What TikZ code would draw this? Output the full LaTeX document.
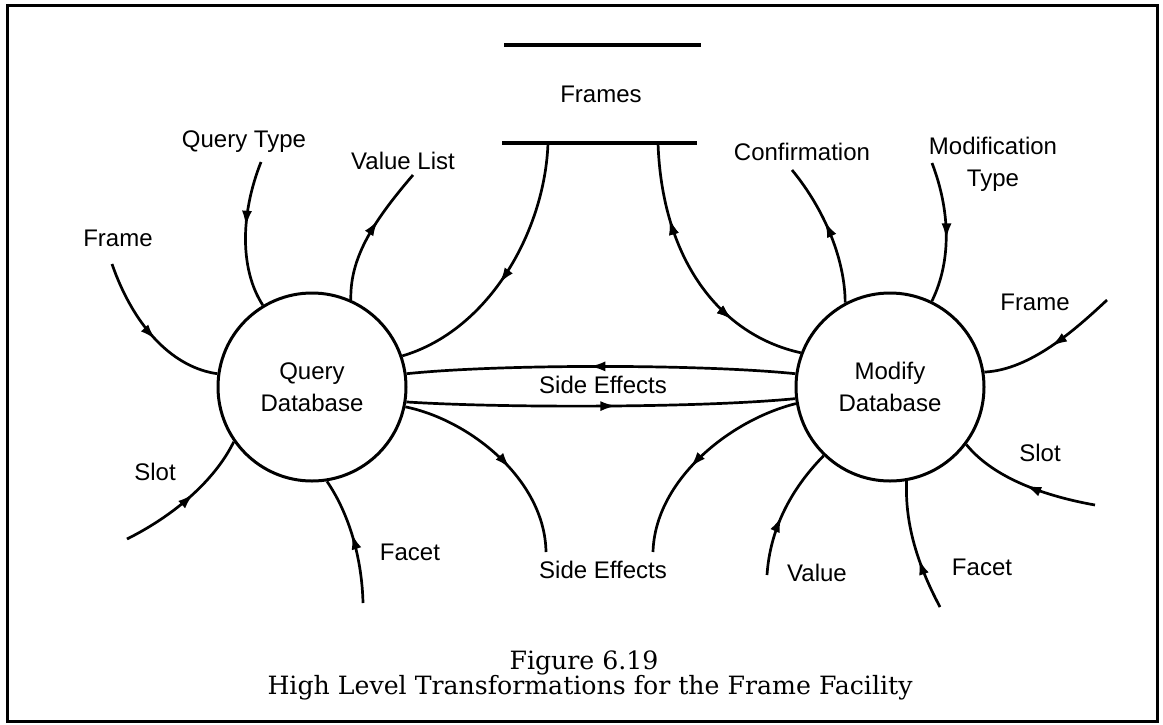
\documentclass[tikz,border=0pt]{standalone}
\usepackage{fontspec}
\setmainfont{DejaVu Serif}
\setsansfont{Liberation Sans}
\usetikzlibrary{arrows.meta,decorations.markings}
\tikzset{
  lbl/.style={font=\sffamily\fontsize{12}{16}\selectfont, inner sep=0pt, align=center},
  proc/.style={circle, draw, line width=1.5pt, minimum size=94pt, inner sep=0pt,
               font=\sffamily\fontsize{12}{16}\selectfont, align=center},
  conn/.style={line width=1.35pt},
  fwd/.style={decoration={markings, mark=at position #1 with {\arrow{Latex[length=8pt,width=5pt]}}}, postaction={decorate}},
  bwd/.style={decoration={markings, mark=at position #1 with {\arrowreversed{Latex[length=8pt,width=5pt]}}}, postaction={decorate}},
  storeline/.style={line width=2pt},
  captxt/.style={font=\rmfamily\fontsize{12.6}{16}\selectfont, inner sep=0pt}
}
\begin{document}
\begin{tikzpicture}[x=0.5pt, y=-0.5pt]
\useasboundingbox (0,0) rectangle (1163,724);
% frame border
\draw[line width=1.5pt] (7,5) rectangle (1157,721);

% data store
\node[lbl, minimum width=98pt, minimum height=49pt] (frames) at (601,94) {Frames};
\draw[storeline] (504,45) -- (701,45);
\draw[storeline] (502,143) -- (697,143);
\coordinate (fsl) at (548,143);
\coordinate (fsr) at (658,143);

% processes
\node[proc] (Q) at (312,387) {Query\\Database};
\node[proc] (M) at (890,387) {Modify\\Database};

% labels
\node[lbl] (lqt) at (244,142) {Query Type};
\node[lbl] (lvl) at (403,161) {Value List};
\node[lbl] (lconf) at (802,152) {Confirmation};
\node[lbl] (lmod) at (993,164) {Modification\\Type};
\node[lbl] (lfl) at (118,238) {Frame};
\node[lbl] (lfr) at (1035,302) {Frame};
\node[lbl] (lsl) at (155,472) {Slot};
\node[lbl] (lsr) at (1040,453) {Slot};
\node[lbl] (lfacl) at (410,552) {Facet};
\node[lbl] (lfacr) at (982,567) {Facet};
\node[lbl] (lval) at (817,573) {Value};
\node[lbl] (lse) at (603,570) {Side Effects};
\node[lbl] (lsem) at (603,385) {Side Effects};

% free ends
\coordinate (qt0) at (261,162);
\coordinate (vl1) at (413,175);
\coordinate (fl0) at (112,264);
\coordinate (sl0) at (127,539);
\coordinate (facl0) at (363,603);
\coordinate (sel1) at (546,552);
\coordinate (ser1) at (653,552);
\coordinate (conf1) at (792,170);
\coordinate (mt0) at (932,163);
\coordinate (fr0) at (1107,300);
\coordinate (sr0) at (1095,505);
\coordinate (facr0) at (940,607);
\coordinate (val0) at (767,575);

% Query Database connectors
\draw[conn, fwd=0.45] (qt0) .. controls (240,215) and (240,270) .. (Q.121);
\draw[conn, fwd=0.6] (Q.66) .. controls (350,260) and (370,225) .. (vl1);
\draw[conn, fwd=0.55] (fsl) .. controls (545,230) and (490,330) .. (Q.19);
\draw[conn, fwd=0.55] (fl0) .. controls (135,330) and (175,368) .. (Q.172);
\draw[conn, fwd=0.55] (sl0) .. controls (175,515) and (215,480) .. (Q.215);
\draw[conn, fwd=0.55] (facl0) .. controls (362,560) and (350,515) .. (Q.279);
\draw[conn, fwd=0.57] (Q.-12) .. controls (470,420) and (545,480) .. (sel1);

% side effects between processes
\draw[conn, fwd=0.53] (M.172) .. controls (700,364) and (500,364) .. (Q.8);
\draw[conn, fwd=0.54] (Q.-9) .. controls (500,408) and (700,408) .. (M.187);

% Modify Database connectors
\draw[conn, bwd=0.28, fwd=0.72] (fsr) .. controls (662,260) and (720,335) .. (M.159);
\draw[conn, fwd=0.57] (M.190) .. controls (730,420) and (655,480) .. (ser1);
\draw[conn, fwd=0.58] (M.118) .. controls (845,260) and (825,210) .. (conf1);
\draw[conn, fwd=0.55] (mt0) .. controls (950,210) and (952,260) .. (M.64);
\draw[conn, fwd=0.5] (fr0) .. controls (1075,330) and (1030,370) .. (M.9);
\draw[conn, fwd=0.5] (sr0) .. controls (1050,497) and (995,480) .. (M.-37);
\draw[conn, fwd=0.4] (facr0) .. controls (915,560) and (905,520) .. (M.-80);
\draw[conn, fwd=0.45] (val0) .. controls (770,530) and (790,490) .. (M.226);

% caption
\node[captxt] (cap1) at (584,663) {Figure 6.19};
\node[captxt] (cap2) at (590,688) {High Level Transformations for the Frame Facility};
\end{tikzpicture}
\end{document}
